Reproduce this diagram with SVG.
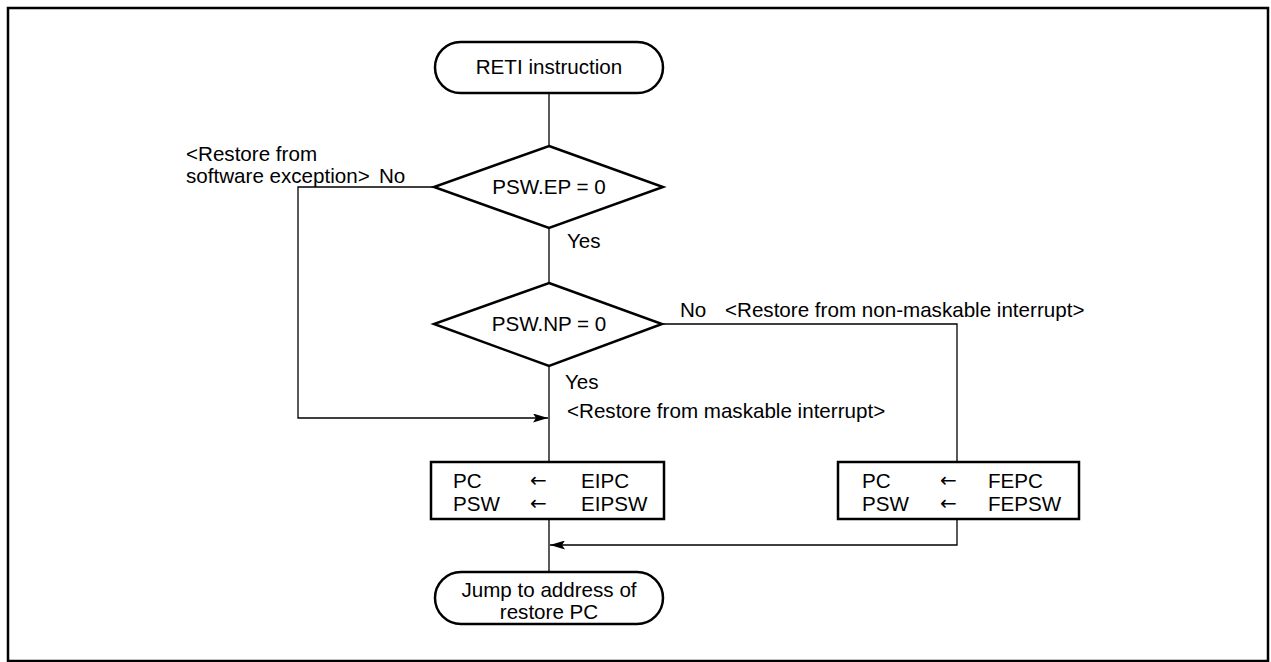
<svg xmlns="http://www.w3.org/2000/svg" width="1271" height="662" viewBox="0 0 1271 662">
<style>
text{font-family:"Liberation Sans",Arial,sans-serif;font-size:20.6px;fill:#000}
.ar{font-family:"DejaVu Sans","Liberation Sans",sans-serif;font-size:20px;fill:#000}
.sh{fill:#fff;stroke:#000;stroke-width:2.5}
.cn{fill:none;stroke:#000;stroke-width:1.3}
.mid{text-anchor:middle}
</style>
<defs>
<marker id="ah" viewBox="0 0 15 9" refX="15" refY="4.5" markerWidth="15" markerHeight="9" markerUnits="userSpaceOnUse" orient="auto">
<path d="M0,0 L15,4.5 L0,9 L3,4.5 Z" fill="#000"/>
</marker>
</defs>
<rect x="8" y="8" width="1260" height="653" fill="#fff" stroke="#000" stroke-width="2.5"/>
<g id="connectors">
<line class="cn" x1="549" y1="93" x2="549" y2="146"/>
<line class="cn" x1="549" y1="228" x2="549" y2="283"/>
<line class="cn" x1="549" y1="366" x2="549" y2="462"/>
<polyline class="cn" points="434,187 298,187 298,418 548,418" marker-end="url(#ah)"/>
<polyline class="cn" points="662,324 957,324 957,462"/>
<line class="cn" x1="549" y1="519" x2="549" y2="572"/>
<polyline class="cn" points="957,519 957,545 550,545" marker-end="url(#ah)"/>
</g>
<g id="start">
<rect class="sh" x="435" y="42" width="228" height="51" rx="25.5"/>
<text class="mid" x="549" y="74">RETI instruction</text>
</g>
<g id="dec1">
<polygon class="sh" points="549,146 663,187 549,228 434,187"/>
<text class="mid" x="549" y="194">PSW.EP = 0</text>
<text x="186" y="161">&lt;Restore from</text>
<text x="186" y="183">software exception&gt;</text>
<text x="379" y="183">No</text>
<text x="567" y="248">Yes</text>
</g>
<g id="dec2">
<polygon class="sh" points="549,283 662,324 549,366 434,324"/>
<text class="mid" x="549" y="331">PSW.NP = 0</text>
<text x="680" y="317">No</text>
<text x="725" y="317">&lt;Restore from non-maskable interrupt&gt;</text>
<text x="565" y="389">Yes</text>
<text x="567" y="418">&lt;Restore from maskable interrupt&gt;</text>
</g>
<g id="boxE">
<rect class="sh" x="431" y="462" width="233" height="57"/>
<text x="453" y="488">PC</text>
<text class="ar" x="530" y="487">←</text>
<text x="581" y="488">EIPC</text>
<text x="453" y="511">PSW</text>
<text class="ar" x="530" y="510">←</text>
<text x="581" y="511">EIPSW</text>
</g>
<g id="boxF">
<rect class="sh" x="838" y="462" width="241" height="57"/>
<text x="862" y="488">PC</text>
<text class="ar" x="940" y="487">←</text>
<text x="988" y="488">FEPC</text>
<text x="862" y="511">PSW</text>
<text class="ar" x="940" y="510">←</text>
<text x="988" y="511">FEPSW</text>
</g>
<g id="end">
<rect class="sh" x="435" y="572" width="228" height="52" rx="26"/>
<text class="mid" x="549" y="597">Jump to address of</text>
<text class="mid" x="549" y="619">restore PC</text>
</g>
</svg>
